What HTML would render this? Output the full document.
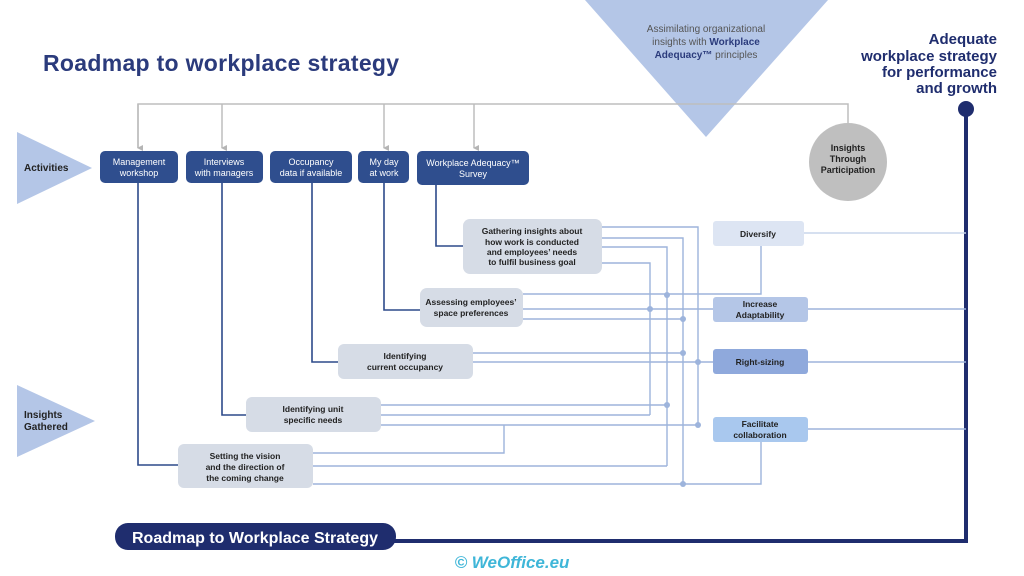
<!DOCTYPE html>
<html><head><meta charset="utf-8"><style>
html,body{margin:0;padding:0;background:#fff;}
svg{display:block;font-family:"Liberation Sans","DejaVu Sans",sans-serif;}
</style></head><body>
<svg width="1024" height="576" viewBox="0 0 1024 576" xmlns="http://www.w3.org/2000/svg">
<defs>
<marker id="ga" markerWidth="8" markerHeight="8" refX="4" refY="6" orient="auto" markerUnits="userSpaceOnUse"><path d="M1,1 L4,7 L7,1 Z" fill="#b5b5b5"/></marker>
</defs>
<text x="43" y="71" font-size="23" font-weight="bold" fill="#2b3b7c" letter-spacing="0.3">Roadmap to workplace strategy</text>

<polygon points="585,0 828,0 706,137" fill="#b4c6e7"/>
<g font-size="10" fill="#555" text-anchor="middle">
<text x="706" y="32">Assimilating  organizational</text>
<text x="706" y="45">insights with <tspan font-weight="bold" fill="#2b3b7c">Workplace</tspan></text>
<text x="706" y="58"><tspan font-weight="bold" fill="#2b3b7c">Adequacy™</tspan> principles</text>
</g>
<g font-size="15" font-weight="bold" fill="#1f2d6e" text-anchor="end">
<text x="997" y="44">Adequate</text>
<text x="997" y="61">workplace strategy</text>
<text x="997" y="77">for performance</text>
<text x="997" y="93">and growth</text>
</g>

<g stroke="#bdbdbd" stroke-width="1.5" fill="none">
<polyline points="138,148 138,104 848,104 848,124"/>
<line x1="222" y1="104" x2="222" y2="148" marker-end="url(#ga)"/>
<line x1="384" y1="104" x2="384" y2="148" marker-end="url(#ga)"/>
<line x1="474" y1="104" x2="474" y2="148" marker-end="url(#ga)"/>
<line x1="138" y1="104" x2="138" y2="148" marker-end="url(#ga)"/>
</g>
<circle cx="848" cy="162" r="39" fill="#bfbfbf"/>
<g font-size="9" font-weight="bold" fill="#222" text-anchor="middle">
<text x="848" y="151">Insights</text><text x="848" y="162">Through</text><text x="848" y="173">Participation</text>
</g>

<circle cx="966" cy="109" r="8" fill="#1f2d6e"/>
<polyline points="966,109 966,541 390,541" stroke="#1f2d6e" stroke-width="4" fill="none"/>
<rect x="115" y="523" width="281" height="27" rx="13" fill="#1f2d6e"/>
<text x="255" y="543" font-size="16" font-weight="bold" fill="#fff" text-anchor="middle">Roadmap to Workplace Strategy</text>
<text x="512" y="568" font-size="17" font-weight="bold" font-style="italic" fill="#3fb6d8" text-anchor="middle">© WeOffice.eu</text>

<polygon points="17,132 17,204 92,168" fill="#b4c6e7"/>
<text x="24" y="171" font-size="10" font-weight="bold" fill="#222">Activities</text>
<polygon points="17,385 17,457 95,421" fill="#b4c6e7"/>
<text x="24" y="418" font-size="10" font-weight="bold" fill="#222">Insights</text>
<text x="24" y="430" font-size="10" font-weight="bold" fill="#222">Gathered</text>

<g stroke="#2d4a8a" stroke-width="1.6" fill="none">
<polyline points="436,185 436,246 463,246"/>
<polyline points="384,183 384,310 420,310"/>
<polyline points="312,183 312,362 338,362"/>
<polyline points="222,183 222,415 246,415"/>
<polyline points="138,183 138,465 178,465"/>
</g>

<g stroke="#9db4dc" stroke-width="1.4" fill="none">
<polyline points="602,227 698,227 698,425"/>
<polyline points="602,238 683,238 683,484"/>
<polyline points="602,247 667,247 667,466"/>
<polyline points="602,263 650,263 650,415"/>
<polyline points="523,294 761,294 761,246"/>
<line x1="523" y1="309" x2="713" y2="309"/>
<line x1="523" y1="319" x2="683" y2="319"/>
<line x1="473" y1="353" x2="683" y2="353"/>
<line x1="473" y1="362" x2="713" y2="362"/>
<line x1="381" y1="405" x2="667" y2="405"/>
<line x1="381" y1="415" x2="650" y2="415"/>
<line x1="381" y1="425" x2="698" y2="425"/>
<polyline points="313,453 504,453 504,425"/>
<line x1="313" y1="466" x2="667" y2="466"/>
<polyline points="313,484 761,484 761,442"/>
<line x1="804" y1="233" x2="966" y2="233" stroke="#c9d5ec"/>
<line x1="808" y1="309" x2="966" y2="309"/>
<line x1="808" y1="362" x2="966" y2="362"/>
<line x1="808" y1="429" x2="966" y2="429"/>
</g>
<g fill="#9db4dc">
<circle cx="698" cy="425" r="3"/><circle cx="698" cy="362" r="3"/>
<circle cx="683" cy="319" r="3"/><circle cx="683" cy="353" r="3"/><circle cx="683" cy="484" r="3"/>
<circle cx="667" cy="295" r="3"/><circle cx="667" cy="405" r="3"/>
<circle cx="650" cy="309" r="3"/>
</g>

<g fill="#2f4e8e">
<rect x="100" y="151" width="78" height="32" rx="5"/>
<rect x="186" y="151" width="77" height="32" rx="5"/>
<rect x="270" y="151" width="82" height="32" rx="5"/>
<rect x="358" y="151" width="51" height="32" rx="5"/>
<rect x="417" y="151" width="112" height="34" rx="5"/>
</g>
<g font-size="9" fill="#fff" text-anchor="middle">
<text x="139" y="165">Management</text><text x="139" y="176">workshop</text>
<text x="224" y="165">Interviews</text><text x="224" y="176">with managers</text>
<text x="311" y="165">Occupancy</text><text x="311" y="176">data if available</text>
<text x="384" y="165">My day</text><text x="384" y="176">at work</text>
<text x="473" y="166">Workplace Adequacy™</text><text x="473" y="177">Survey</text>
</g>

<g fill="#d6dce6">
<rect x="463" y="219" width="139" height="55" rx="7"/>
<rect x="420" y="288" width="103" height="39" rx="7"/>
<rect x="338" y="344" width="135" height="35" rx="6"/>
<rect x="246" y="397" width="135" height="35" rx="6"/>
<rect x="178" y="444" width="135" height="44" rx="6"/>
</g>
<g font-size="8.5" font-weight="bold" fill="#222" text-anchor="middle">
<text x="532" y="234">Gathering insights  about</text>
<text x="532" y="245">how work is conducted</text>
<text x="532" y="255">and employees’ needs</text>
<text x="532" y="265">to fulfil  business  goal</text>
<text x="471" y="305">Assessing employees’</text>
<text x="471" y="316">space preferences</text>
<text x="405" y="359">Identifying</text>
<text x="405" y="370">current occupancy</text>
<text x="313" y="412">Identifying unit</text>
<text x="313" y="423">specific needs</text>
<text x="245" y="459">Setting the vision</text>
<text x="245" y="470">and the direction of</text>
<text x="245" y="481">the coming change</text>
</g>

<rect x="713" y="221" width="91" height="25" rx="3" fill="#dde5f3"/>
<rect x="713" y="297" width="95" height="25" rx="3" fill="#b4c6e7"/>
<rect x="713" y="349" width="95" height="25" rx="3" fill="#8fa9dc"/>
<rect x="713" y="417" width="95" height="25" rx="3" fill="#a9c8ee"/>
<g font-size="8.5" font-weight="bold" fill="#222" text-anchor="middle">
<text x="758" y="237">Diversify</text>
<text x="760" y="307">Increase</text><text x="760" y="318">Adaptability</text>
<text x="760" y="365">Right-sizing</text>
<text x="760" y="427">Facilitate</text><text x="760" y="438">collaboration</text>
</g>
</svg>
</body></html>
